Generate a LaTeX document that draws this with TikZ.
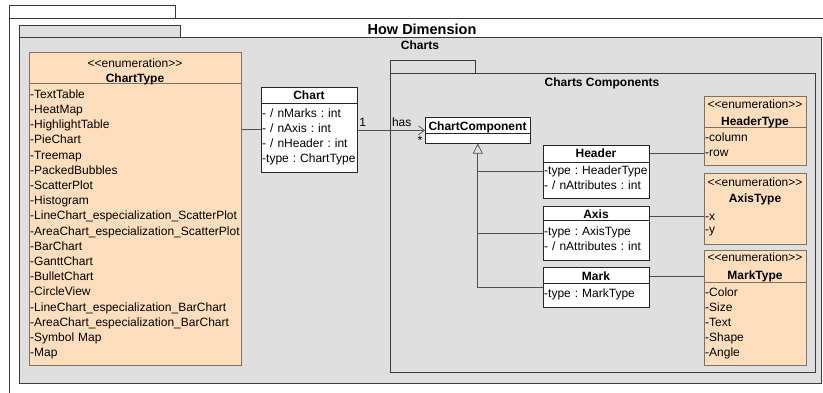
\documentclass[tikz,border=0pt]{standalone}
\usepackage{fontspec}
\setmainfont{Liberation Sans}
\usetikzlibrary{arrows.meta}

\definecolor{pkggray}{RGB}{223,223,223}
\definecolor{pkgline}{RGB}{60,60,60}
\definecolor{peach}{RGB}{255,222,190}
\definecolor{enumline}{RGB}{130,112,98}
\definecolor{edgegray}{RGB}{80,80,80}

\newcommand{\stereotype}[1]{<\kern0pt<#1>\kern0pt>}
\frenchspacing

\begin{document}
\begin{tikzpicture}[
                    x=1pt, y=-1pt,
                    pkgbox/.style={
                        draw=pkgline,
                        line width=1pt,
                        fill=pkggray,
                        anchor=north west,
                        inner sep=0pt
                    },
                    classbox/.style={
                        draw=black!85,
                        line width=0.6pt,
                        fill=white,
                        anchor=north west,
                        inner sep=0pt
                    },
                    enumbox/.style={
                        draw=enumline,
                        line width=0.6pt,
                        fill=peach,
                        anchor=north west,
                        inner sep=0pt
                    },
                    boxtitle/.style={font=\fontsize{12}{14}\selectfont\bfseries, anchor=base, inner sep=0pt},
                    plain/.style={font=\fontsize{12}{14}\selectfont, anchor=base, inner sep=0pt},
                    attrs/.style={font=\fontsize{12}{15.2}\selectfont, text width=220pt, align=left, anchor=base west, inner sep=0pt},
                    edge/.style={draw=edgegray, line width=0.7pt}
                ]

                    \useasboundingbox (0,0) rectangle (823,392);

                    % Packages
                    \node[pkgbox, fill=white, minimum width=166pt, minimum height=13pt] (howtab) at (9,5) {};
                    \node[pkgbox, fill=white, minimum width=830pt, minimum height=390pt] (how) at (9,18) {};
                    \node[boxtitle, font=\fontsize{14.5}{16}\selectfont\bfseries] (howlbl) at (422,34.5) {How Dimension};

                    \node[pkgbox, minimum width=161pt, minimum height=12pt] (chartstab) at (19,25) {};
                    \node[pkgbox, minimum width=802pt, minimum height=346pt] (charts) at (19,37) {};
                    \node[boxtitle] (chartslbl) at (420,49.8) {Charts};

                    \node[pkgbox, minimum width=85pt, minimum height=13pt] (comptab) at (390,60) {};
                    \node[pkgbox, minimum width=425pt, minimum height=299pt] (comppkg) at (390,73) {};
                    \node[boxtitle] (complbl) at (602,86.8) {Charts Components};

                    % ChartType
                    \node[enumbox, minimum width=212pt, minimum height=313pt] (ctype) at (29,52) {};
                    \draw[enumline, line width=0.6pt] (ctype.west |- 0,83.7) -- (ctype.east |- 0,83.7);
                    \node[plain] (ctypest) at (135,67) {\stereotype{enumeration}};
                    \node[boxtitle] (ctypename) at (135,82) {ChartType};
                    \node[attrs] (ctypeitems) at (30,98.3) {-TextTable\\-HeatMap\\-HighlightTable\\-PieChart\\-Treemap\\-PackedBubbles\\-ScatterPlot\\-Histogram\\-LineChart\_especialization\_ScatterPlot\\-AreaChart\_especialization\_ScatterPlot\\-BarChart\\-GanttChart\\-BulletChart\\-CircleView\\-LineChart\_especialization\_BarChart\\-AreaChart\_especialization\_BarChart\\-Symbol Map\\-Map};

                    % Chart
                    \node[classbox, minimum width=96pt, minimum height=85pt] (chart) at (261,87) {};
                    \draw[black!85, line width=0.6pt] (chart.west |- 0,103) -- (chart.east |- 0,103);
                    \node[boxtitle] (chartname) at (309,99.3) {Chart};
                    \node[attrs] (chartitems) at (262,117.3) {- / nMarks : int\\- / nAxis : int\\- / nHeader : int\\-type : ChartType};

                    % ChartComponent
                    \node[classbox, minimum width=105pt, minimum height=26pt] (comp) at (425,117) {};
                    \draw[black!85, line width=0.6pt] (comp.west |- 0,133) -- (comp.east |- 0,133);
                    \node[boxtitle] (compname) at (477.5,130) {ChartComponent};

                    % Header, Axis, Mark
                    \node[classbox, minimum width=106pt, minimum height=53pt] (header) at (543,145) {};
                    \draw[black!85, line width=0.6pt] (header.west |- 0,162) -- (header.east |- 0,162);
                    \node[boxtitle] (hdrname) at (596,157.6) {Header};
                    \node[attrs] (hdritems) at (544,174.3) {-type : HeaderType\\- / nAttributes : int};

                    \node[classbox, minimum width=106pt, minimum height=54pt] (axis) at (543,206) {};
                    \draw[black!85, line width=0.6pt] (axis.west |- 0,220) -- (axis.east |- 0,220);
                    \node[boxtitle] (axname) at (596,218.6) {Axis};
                    \node[attrs] (axitems) at (544,235) {-type : AxisType\\- / nAttributes : int};

                    \node[classbox, minimum width=106pt, minimum height=40pt] (mark) at (543,267) {};
                    \draw[black!85, line width=0.6pt] (mark.west |- 0,283) -- (mark.east |- 0,283);
                    \node[boxtitle] (mkname) at (596,280.3) {Mark};
                    \node[attrs] (mkitems) at (544,297) {-type : MarkType};

                    % Enumerations of the components
                    \node[enumbox, minimum width=102pt, minimum height=69pt] (htype) at (704,96) {};
                    \draw[enumline, line width=0.6pt] (htype.west |- 0,127) -- (htype.east |- 0,127);
                    \node[plain] (htypest) at (755,108.3) {\stereotype{enumeration}};
                    \node[boxtitle] (htypename) at (755,125) {HeaderType};
                    \node[attrs, font=\fontsize{12}{15}\selectfont] (htypeitems) at (705,141.6) {-column\\-row};

                    \node[enumbox, minimum width=102pt, minimum height=71pt] (atype) at (704,173) {};
                    \node[plain] (atypest) at (755,186) {\stereotype{enumeration}};
                    \node[boxtitle] (atypename) at (755,202.6) {AxisType};
                    \node[attrs, font=\fontsize{12}{13.3}\selectfont] (atypeitems) at (705,220.3) {-x\\-y};

                    \node[enumbox, minimum width=102pt, minimum height=115pt] (mtype) at (704,250) {};
                    \draw[enumline, line width=0.6pt] (mtype.west |- 0,282) -- (mtype.east |- 0,282);
                    \node[plain] (mtypest) at (755,261.6) {\stereotype{enumeration}};
                    \node[boxtitle] (mtypename) at (755,279.3) {MarkType};
                    \node[attrs, font=\fontsize{12}{15.1}\selectfont] (mtypeitems) at (705,296) {-Color\\-Size\\-Text\\-Shape\\-Angle};

                    % Edges
                    \draw[edge] (ctype.east |- chart.west) -- (chart.west);
                    \draw[edge, -{Straight Barb[length=6pt, width=9pt]}] (chart.east |- comp.west) -- (comp.west);
                    \node[plain] (one) at (362.7,126) {1};
                    \node[plain] (has) at (401.7,126) {has};
                    \node[plain, anchor=center] (many) at (420,140.5) {*};

                    \coordinate (gen) at ([yshift=-10pt]comp.south);
                    \draw[edge, -{Triangle[open, length=10pt, width=10pt]}] (gen) -- (comp.south);
                    \draw[edge] (gen) |- (mark.west);
                    \draw[edge] (gen |- header.west) -- (header.west);
                    \draw[edge] (gen |- axis.west) -- (axis.west);

                    \draw[edge] (header.east |- hdrname) -- (htype.west |- hdrname);
                    \draw[edge] (axis.east |- 0,216) -- (atype.west |- 0,216);
                    \draw[edge] (mark.east |- mkname) -- (mtype.west |- mkname);
                \end{tikzpicture}
\end{document}
